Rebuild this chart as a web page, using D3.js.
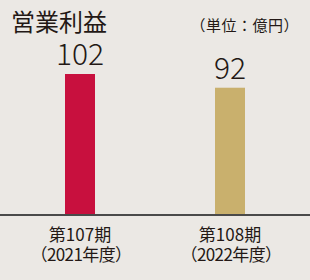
<!DOCTYPE html>
<html>
<head>
<meta charset="utf-8">
<script src="https://cdn.jsdelivr.net/npm/d3@7"></script>
<style>
  html, body { margin: 0; padding: 0; background: #ebe8e4; }
  svg { display: block; }
  text { font-family: "Noto Sans CJK JP", "Noto Sans", sans-serif; fill: #231815; }
</style>
</head>
<body>
<div id="chart"></div>
<script>
var periods = ["第107期", "第108期"];
var years = ["（2021年度）", "（2022年度）"];
var values = [102, 92];
var colors = ["#c8103e", "#c9b06d"];

var width = 310,
    height = 280;

var svg = d3.select("#chart")
    .append("svg")
    .attr("width", width)
    .attr("height", height);

var xPos = d3.scalePoint().domain(periods).range([80, 230]);

var y = d3.scaleLinear().domain([0, 102]).range([214, 74]);

var barW = 30;

svg.selectAll(".bar")
    .data(values)
    .enter().append("rect")
    .attr("class", "bar")
    .attr("x", function(d, i) { return xPos(periods[i]) - barW / 2 })
    .attr("y", function(d) { return y(d) })
    .attr("width", barW)
    .attr("height", function(d) { return y(0) - y(d) })
    .attr("fill", function(d, i) { return colors[i] });

svg.selectAll(".val")
    .data(values)
    .enter().append("text")
    .attr("class", "val")
    .attr("x", function(d, i) { return xPos(periods[i]) })
    .attr("y", function(d) { return y(d) - 9 })
    .attr("text-anchor", "middle")
    .style("font-size", "30px")
    .style("font-weight", 300)
    .text(function(d) { return d });

// baseline
svg.append("line")
    .attr("x1", 0).attr("x2", width)
    .attr("y1", y(0) + 1).attr("y2", y(0) + 1)
    .attr("stroke", "#4a4a4a")
    .attr("stroke-width", 2);

svg.selectAll(".period")
    .data(periods)
    .enter().append("text")
    .attr("x", function(d) { return xPos(d) })
    .attr("y", 241)
    .attr("text-anchor", "middle")
    .style("font-size", "17px")
    .text(function(d) { return d });

svg.selectAll(".year")
    .data(years)
    .enter().append("text")
    .attr("x", function(d, i) { return xPos(periods[i]) + 1 })
    .attr("y", 261)
    .attr("text-anchor", "middle")
    .style("font-size", "17px")
    .style("letter-spacing", "-0.6px")
    .text(function(d) { return d });

svg.append("text")
    .attr("x", 11)
    .attr("y", 31)
    .style("font-size", "24px")
    .text("営業利益");

svg.append("text")
    .attr("x", 299)
    .attr("y", 31)
    .attr("text-anchor", "end")
    .style("font-size", "15px")
    .style("letter-spacing", "0.5px")
    .text("（単位：億円）");
</script>
</body>
</html>
